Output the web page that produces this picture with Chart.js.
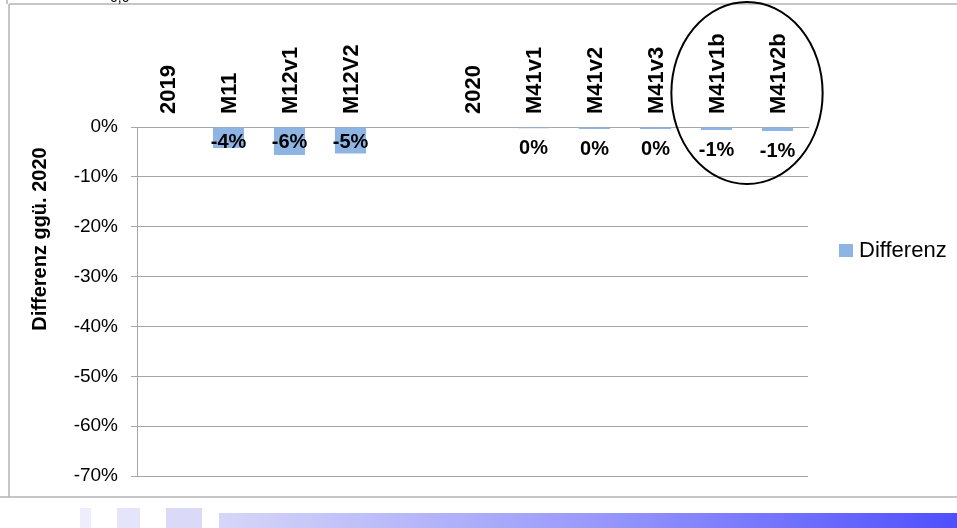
<!DOCTYPE html>
<html>
<head>
<meta charset="utf-8">
<script src="https://cdn.jsdelivr.net/npm/chart.js@4"></script>
<style>
    html, body { margin: 0; padding: 0; background: #fff; }
    #wrap { width: 957px; height: 528px; position: relative; }
</style>
</head>
<body>
<div id="wrap"><canvas id="diffChart" width="957" height="528"></canvas></div>
<script>
// Chart data
const categories = ['2019', 'M11', 'M12v1', 'M12V2', '', '2020', 'M41v1', 'M41v2', 'M41v3', 'M41v1b', 'M41v2b'];
const diffValues = [null, -4.2, -5.6, -5.3, null, null, -0.25, -0.4, -0.4, -0.6, -0.8];
const yTicks = [0, -10, -20, -30, -40, -50, -60, -70];
const seriesLabel = 'Differenz';
const axisTitle = 'Differenz ggü. 2020';

const FONT = 'Arial, "Liberation Sans", sans-serif';
const BAR_COLOR = '#8eb4e3';
const GRID_COLOR = '#a6a6a6';

Chart.defaults.font.family = FONT;
Chart.defaults.color = '#000';

/**
 * Frame, footer band and cut-off text behind the chart
 */
const backdropPlugin = {
    id: 'backdrop',
    beforeDraw(chart) {
        const ctx = chart.ctx;
        ctx.save();
        ctx.fillStyle = '#fff';
        ctx.fillRect(0, 0, chart.width, chart.height);

        // frame lines
        ctx.strokeStyle = '#b4b4b4';
        ctx.lineWidth = 1.5;
        ctx.beginPath();
        ctx.moveTo(9, 4); ctx.lineTo(chart.width, 4);
        ctx.moveTo(9, 4); ctx.lineTo(9, 497);
        ctx.moveTo(0, 497); ctx.lineTo(chart.width, 497);
        ctx.moveTo(7, 0); ctx.lineTo(7, 4);
        ctx.stroke();

        // cut-off text at the very top
        ctx.fillStyle = '#000';
        ctx.font = '14px ' + FONT;
        ctx.textBaseline = 'alphabetic';
        ctx.fillText('0,0', 110, 2);

        // footer squares + gradient band
        ctx.fillStyle = '#ededfb';
        ctx.fillRect(80, 508, 11, 20);
        ctx.fillStyle = '#e4e4fa';
        ctx.fillRect(117, 508, 23, 20);
        ctx.fillStyle = '#dadaf8';
        ctx.fillRect(166, 508, 36, 20);
        const grad = ctx.createLinearGradient(219, 0, chart.width, 0);
        grad.addColorStop(0, '#d6d6f8');
        grad.addColorStop(0.5, '#9a9afc');
        grad.addColorStop(1, '#4f4fff');
        ctx.fillStyle = grad;
        ctx.fillRect(219, 513, chart.width - 219, 15);
        ctx.restore();
    }
};

/**
 * Value labels, axis title, legend and highlight ellipse
 */
const overlayPlugin = {
    id: 'overlay',
    afterDatasetsDraw(chart) {
        const ctx = chart.ctx;
        const meta = chart.getDatasetMeta(0);
        ctx.save();
        ctx.font = 'bold 20px ' + FONT;
        ctx.fillStyle = '#000';
        ctx.textAlign = 'center';
        ctx.textBaseline = 'middle';
        meta.data.forEach((bar, i) => {
            const v = diffValues[i];
            if (v === null) return;
            const y = Math.abs(v) >= 2 ? bar.base + 15 : bar.y + 20;
            ctx.fillText(Math.round(v) + '%', bar.x, y);
        });
        ctx.restore();
    },
    afterDraw(chart) {
        const ctx = chart.ctx;
        const area = chart.chartArea;
        const x = chart.scales.x;
        ctx.save();

        // y axis title
        ctx.font = 'bold 20px ' + FONT;
        ctx.fillStyle = '#000';
        ctx.textAlign = 'center';
        ctx.textBaseline = 'middle';
        ctx.translate(40, 239);
        ctx.rotate(-Math.PI / 2);
        ctx.fillText(axisTitle, 0, 0);
        ctx.setTransform(1, 0, 0, 1, 0, 0);

        // legend
        const lx = area.right + 31;
        ctx.fillStyle = BAR_COLOR;
        ctx.fillRect(lx, 244, 14, 13);
        ctx.fillStyle = '#000';
        ctx.font = '22px ' + FONT;
        ctx.textAlign = 'left';
        ctx.fillText(seriesLabel, lx + 20, 251);

        // ellipse round the last two categories
        const cx = (x.getPixelForValue(9) + x.getPixelForValue(10)) / 2;
        const slot = x.getPixelForValue(10) - x.getPixelForValue(9);
        ctx.strokeStyle = '#000';
        ctx.lineWidth = 2;
        ctx.beginPath();
        ctx.ellipse(cx, 93, slot * 1.24, 91, 0, 0, Math.PI * 2);
        ctx.stroke();
        ctx.restore();
    }
};

const diffChart = new Chart(document.getElementById('diffChart'), {
    type: 'bar',
    data: {
        labels: categories,
        datasets: [{
            label: seriesLabel,
            data: diffValues,
            backgroundColor: BAR_COLOR,
            barPercentage: 0.51,
            categoryPercentage: 1.0,
        }],
    },
    options: {
        responsive: false,
        animation: false,
        layout: {
            padding: { left: 0, right: 149, top: 0, bottom: 52 },
        },
        plugins: {
            legend: { display: false },
            tooltip: { enabled: false },
        },
        scales: {
            x: {
                position: 'top',
                grid: { display: false, drawTicks: false },
                border: { color: GRID_COLOR },
                ticks: {
                    autoSkip: false,
                    minRotation: 90,
                    maxRotation: 90,
                    padding: 13,
                    labelOffset: 28,
                    font: { size: 22, weight: 'bold' },
                    color: '#000',
                },
                afterFit: (scale) => { scale.height = 127; },
            },
            y: {
                min: -70,
                max: 0,
                afterBuildTicks: (scale) => {
                    scale.ticks = yTicks.map(v => ({ value: v }));
                },
                grid: {
                    color: GRID_COLOR,
                    tickLength: 6,
                },
                border: { color: GRID_COLOR },
                ticks: {
                    padding: 13,
                    font: { size: 19 },
                    color: '#000',
                    callback: (value) => value + '%',
                },
                afterFit: (scale) => { scale.width = 137; },
            },
        },
    },
    plugins: [backdropPlugin, overlayPlugin],
});
</script>
</body>
</html>
